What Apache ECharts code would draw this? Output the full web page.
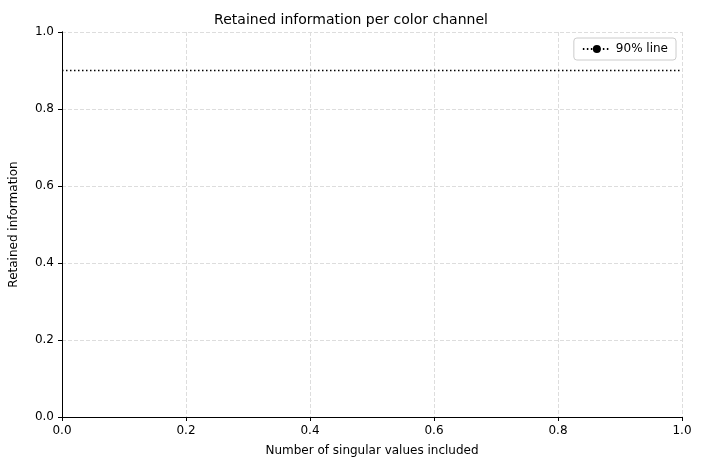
<!DOCTYPE html>
<html>
<head>
<meta charset="utf-8">
<script src="https://cdn.jsdelivr.net/npm/echarts@6/dist/echarts.min.js"></script>
<style>html,body{margin:0;padding:0;background:#fff}#chart{width:702px;height:470px}</style>
</head>
<body>
<div id="chart"></div>
<script>
// threshold line data
var lineX = [0, 1];
var lineY = [0.9, 0.9];
var tickFont = { fontFamily: 'DejaVu Sans', fontSize: 12, color: '#000' };

function axisBase(extra) {
    var a = {
        type: 'value', min: 0, max: 1, interval: 0.2,
        axisLine: { show: true, lineStyle: { color: '#000' } },
        axisTick: { show: true, length: 4, lineStyle: { color: '#000' } },
        axisLabel: { formatter: function (v) { return v.toFixed(1); }, fontFamily: 'DejaVu Sans', fontSize: 12, color: '#000', margin: 8 },
        splitLine: { show: true, lineStyle: { color: '#ddd', type: 'dashed' } }
    };
    return Object.assign(a, extra);
}
var hidden = { axisTick: { show: false }, axisLabel: { show: false }, splitLine: { show: false } };

var chart = echarts.init(document.getElementById('chart'));
chart.setOption({
    animation: false,
    title: {
        text: 'Retained information per color channel', left: 'center', top: 8,
        textStyle: { fontFamily: 'DejaVu Sans', fontSize: 14, fontWeight: 'normal', color: '#000' }
    },
    grid: { left: 61, right: 20, top: 32, bottom: 53 },
    legend: {
        right: 26, top: 38, padding: [5, 8], borderColor: '#ccc', borderWidth: 1, borderRadius: 3,
        itemWidth: 28, itemHeight: 10,
        textStyle: tickFont,
        data: ['90% line']
    },
    xAxis: [
        axisBase({ name: 'Number of singular values included', nameLocation: 'middle', nameGap: 28, nameTextStyle: tickFont }),
        axisBase(Object.assign({ position: 'top' }, hidden))
    ],
    yAxis: [
        axisBase({ name: 'Retained information', nameLocation: 'middle', nameGap: 42, nameTextStyle: tickFont }),
        axisBase(Object.assign({ position: 'right' }, hidden))
    ],
    series: [{
        name: '90% line', type: 'line', symbol: 'none',
        data: lineX.map(function (x, i) { return [x, lineY[i]]; }),
        itemStyle: { color: '#000' },
        lineStyle: { color: '#000', width: 1.5, type: [1.5, 2.5] }
    }]
});
</script>
</body>
</html>
